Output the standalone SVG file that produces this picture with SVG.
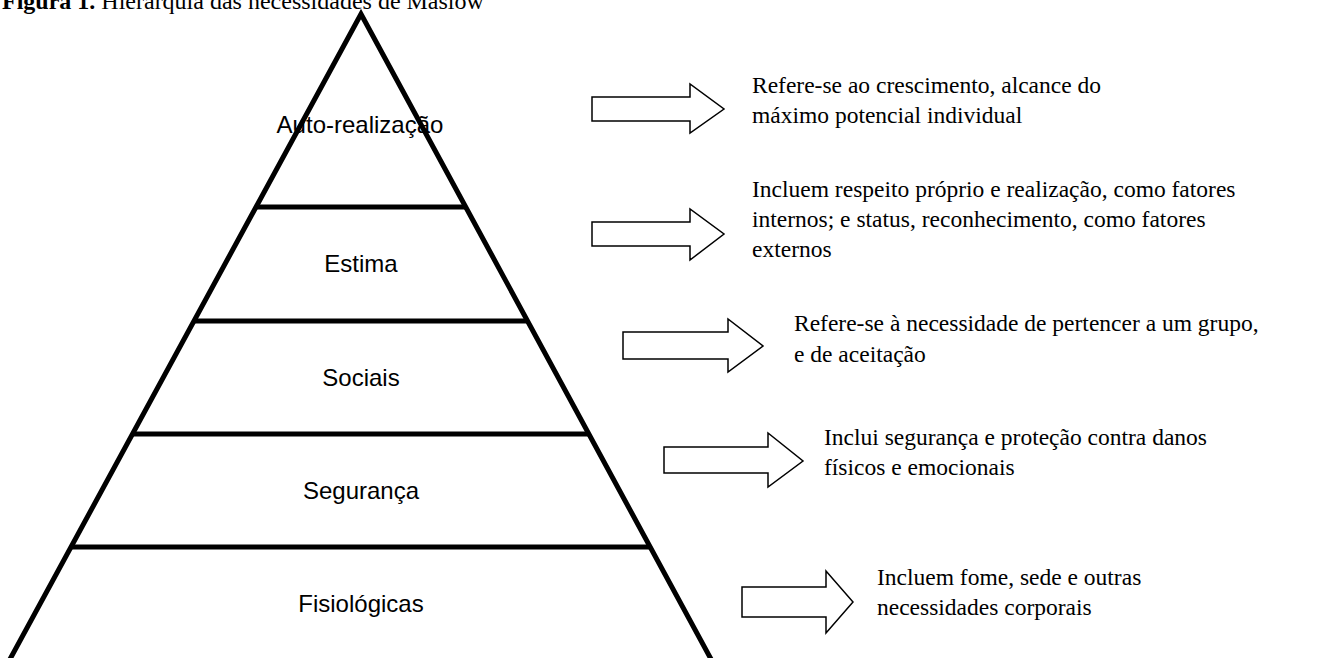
<svg xmlns="http://www.w3.org/2000/svg" width="1332" height="658" viewBox="0 0 1332 658">
<style>
.pyr{fill:none;stroke:#000;stroke-width:5;stroke-linejoin:miter;stroke-miterlimit:10}
.lvl{stroke:#000;stroke-width:5}
.lab{font-family:"Liberation Sans",Arial,sans-serif;font-size:24px;fill:#000;text-anchor:middle}
.arr{fill:#fff;stroke:#000;stroke-width:1.5;stroke-linejoin:miter}
.desc{font-family:"Liberation Serif","Times New Roman",serif;font-size:23.5px;fill:#000}
.ttl{font-family:"Liberation Serif","Times New Roman",serif;font-size:24px;fill:#000}
</style>
<rect width="1332" height="658" fill="#fff"/>
<text class="ttl" x="2" y="9"><tspan font-weight="bold">Figura 1.</tspan> Hierarquia das necessidades de Maslow</text>
<g id="pyramid">
<polyline class="pyr" points="3,672 361,14 718,672"/>
</g>
<g id="n-autorealizacao"><text class="lab" x="360" y="133">Auto-realização</text></g>
<g id="n-estima"><line class="lvl" x1="256" y1="207" x2="466" y2="207"/><text class="lab" x="361" y="272">Estima</text></g>
<g id="n-sociais"><line class="lvl" x1="194" y1="321" x2="527" y2="321"/><text class="lab" x="361" y="386">Sociais</text></g>
<g id="n-seguranca"><line class="lvl" x1="132" y1="434" x2="589" y2="434"/><text class="lab" x="361" y="499">Segurança</text></g>
<g id="n-fisiologicas"><line class="lvl" x1="71" y1="547" x2="650" y2="547"/><text class="lab" x="361" y="612">Fisiológicas</text></g>
<g id="connectors">
<polygon class="arr" points="592,97 690,97 690,84 724,109 690,133 690,121 592,121"/>
<polygon class="arr" points="592,222 690,222 690,209 724,234 690,260 690,246 592,246"/>
<polygon class="arr" points="623,332 728,332 728,319 763,346 728,372 728,359 623,359"/>
<polygon class="arr" points="664,447 768,447 768,433 803,461 768,487 768,473 664,473"/>
<polygon class="arr" points="742,587 826,587 826,571 853,602 826,633 826,617 742,617"/>
</g>
<g id="d-autorealizacao"><text class="desc" x="752" y="93">Refere-se ao crescimento, alcance do</text><text class="desc" x="752" y="123">máximo potencial individual</text></g>
<g id="d-estima"><text class="desc" x="752" y="197">Incluem respeito próprio e realização, como fatores</text><text class="desc" x="752" y="227">internos; e status, reconhecimento, como fatores</text><text class="desc" x="752" y="257">externos</text></g>
<g id="d-sociais"><text class="desc" x="794" y="331">Refere-se à necessidade de pertencer a um grupo,</text><text class="desc" x="794" y="362">e de aceitação</text></g>
<g id="d-seguranca"><text class="desc" x="824" y="445">Inclui segurança e proteção contra danos</text><text class="desc" x="824" y="475">físicos e emocionais</text></g>
<g id="d-fisiologicas"><text class="desc" x="877" y="585">Incluem fome, sede e outras</text><text class="desc" x="877" y="615">necessidades corporais</text></g>
</svg>
